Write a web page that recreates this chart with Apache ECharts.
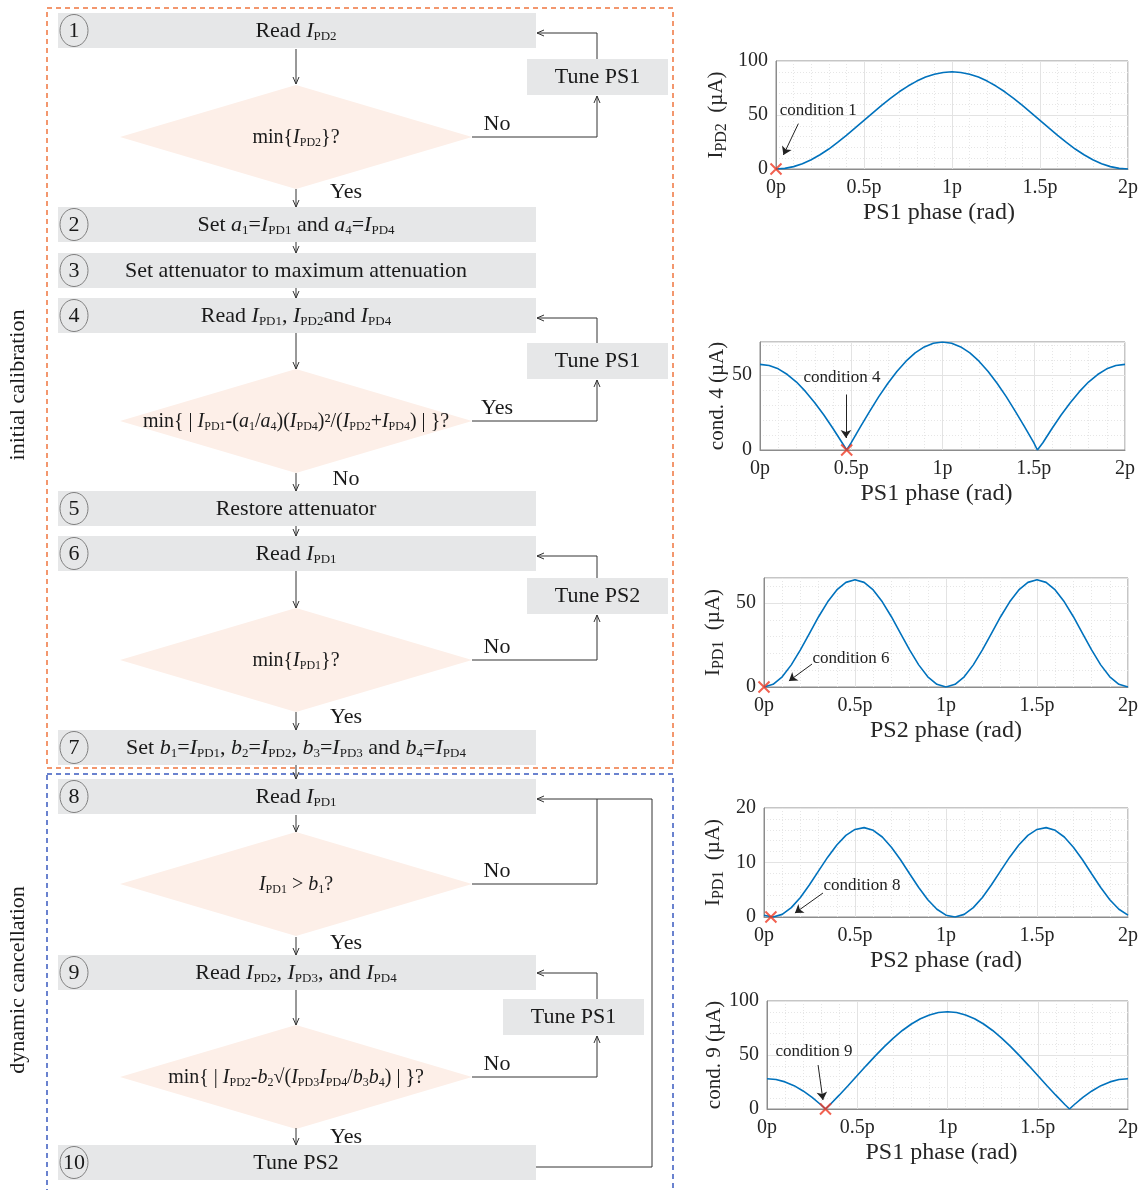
<!DOCTYPE html>
<html><head><meta charset="utf-8">
<script src="https://cdn.jsdelivr.net/npm/echarts@6/dist/echarts.min.js"></script>
<style>html,body{margin:0;padding:0;background:#fff}#c{width:1148px;height:1190px}</style>
</head><body><div id="c"></div>
<script>
// ================= DATA =================
const phaseTicks = ['0p', '0.5p', '1p', '1.5p', '2p'];
const phaseStd = [0,0.05,0.1,0.15,0.2,0.25,0.3,0.35,0.4,0.45,0.5,0.55,0.6,0.65,0.7,0.75,0.8,0.85,0.9,0.95,1,1.05,1.1,1.15,1.2,1.25,1.3,1.35,1.4,1.45,1.5,1.55,1.6,1.65,1.7,1.75,1.8,1.85,1.9,1.95,2];
// plot 1: I_PD2 vs PS1 phase
const ipd2 = [0,0.55,2.2,4.9,8.6,13.2,18.5,24.6,31.1,38.0,45.0,52.0,58.9,65.4,71.5,76.8,81.4,85.1,87.8,89.4,90,89.4,87.8,85.1,81.4,76.8,71.5,65.4,58.9,52.0,45.0,38.0,31.1,24.6,18.5,13.2,8.6,4.9,2.2,0.55,0];
// plot 2: condition 4 vs PS1 phase
const phaseCond4 = [0,0.05,0.1,0.15,0.2,0.25,0.3,0.35,0.4,0.45,0.475,0.5,0.55,0.6,0.65,0.7,0.75,0.8,0.85,0.9,0.95,1,1.05,1.1,1.15,1.2,1.25,1.3,1.35,1.4,1.45,1.5,1.52,1.55,1.6,1.65,1.7,1.75,1.8,1.85,1.9,1.95,2];
const cond4 = [57.1,56.3,54.1,50.3,45.3,38.9,31.5,23.3,14.3,4.8,0,4.9,15.4,25.6,35.4,44.3,52.3,59.2,64.7,68.7,71.2,72.0,71.2,68.7,64.7,59.2,52.3,44.3,35.4,25.6,15.4,4.9,0,4.8,14.3,23.3,31.5,38.9,45.3,50.3,54.1,56.3,57.1];
// plot 3: I_PD1 vs PS2 phase (condition 6)
const ipd1Cal = [0,1.6,6.1,13.2,22.1,32.0,41.9,50.8,57.9,62.4,64.0,62.4,57.9,50.8,41.9,32.0,22.1,13.2,6.1,1.6,0,1.6,6.1,13.2,22.1,32.0,41.9,50.8,57.9,62.4,64.0,62.4,57.9,50.8,41.9,32.0,22.1,13.2,6.1,1.6,0];
// plot 4: I_PD1 vs PS2 phase (condition 8)
const ipd1Dyn = [0.33,0.0,0.48,1.72,3.59,5.91,8.46,10.98,13.22,14.98,16.07,16.40,15.91,14.68,12.81,10.51,7.94,5.42,3.17,1.42,0.33,0.0,0.48,1.72,3.59,5.91,8.46,10.98,13.22,14.98,16.07,16.40,15.91,14.68,12.81,10.51,7.94,5.42,3.17,1.42,0.33];
// plot 5: condition 9 vs PS1 phase
const phaseCond9 = [0,0.05,0.1,0.15,0.2,0.25,0.3,0.324,0.35,0.4,0.45,0.5,0.55,0.6,0.65,0.7,0.75,0.8,0.85,0.9,0.95,1,1.05,1.1,1.15,1.2,1.25,1.3,1.35,1.4,1.45,1.5,1.55,1.6,1.65,1.676,1.7,1.75,1.8,1.85,1.9,1.95,2];
const cond9 = [28.0,27.3,25.1,21.6,16.7,10.7,3.7,0,4.2,12.8,21.8,31.0,40.2,49.2,57.8,65.7,72.7,78.7,83.6,87.1,89.3,90.0,89.3,87.1,83.6,78.7,72.7,65.7,57.8,49.2,40.2,31.0,21.8,12.8,4.2,0,3.7,10.7,16.7,21.6,25.1,27.3,28.0];
// operating points (red crosses)
const markerPhase = [0, 0.475, 0, 0.038, 0.324];
const markerValue = [0, 0, 0, 0, 0];
// annotation texts and arrows (data coords: text centre, arrow start, arrow end)
const condLabels = ['condition 1', 'condition 4', 'condition 6', 'condition 8', 'condition 9'];
const condTextAt = [[0.24, 54], [0.449, 48], [0.478, 16.7], [0.538, 5.7], [0.26, 52.8]];
const condArrowFrom = [[0.127, 42], [0.471, 37], [0.264, 13.7], [0.324, 4.4], [0.283, 40.7]];
const condArrowTo = [[0.042, 13], [0.471, 8], [0.137, 3.6], [0.170, 0.73], [0.31, 8.3]];
const yMax = [100, 72, 65, 20, 100];
const yInterval = [50, 50, 50, 10, 50];
const yNames = ['{r|I}{s|PD2}{r|  (µA)}', '{r|cond. 4 (µA)}', '{r|I}{s|PD1}{r|  (µA)}', '{r|I}{s|PD1}{r|  (µA)}', '{r|cond. 9 (µA)}'];
const xNames = ['PS1 phase (rad)', 'PS1 phase (rad)', 'PS2 phase (rad)', 'PS2 phase (rad)', 'PS1 phase (rad)'];

// flowchart texts
const stepTexts = [
  'Read {i|I}{s|PD2}',
  'Set {i|a}{s|1}={i|I}{s|PD1} and {i|a}{s|4}={i|I}{s|PD4}',
  'Set attenuator to maximum attenuation',
  'Read {i|I}{s|PD1}, {i|I}{s|PD2}and {i|I}{s|PD4}',
  'Restore attenuator',
  'Read {i|I}{s|PD1}',
  'Set {i|b}{s|1}={i|I}{s|PD1}, {i|b}{s|2}={i|I}{s|PD2}, {i|b}{s|3}={i|I}{s|PD3} and {i|b}{s|4}={i|I}{s|PD4}',
  'Read {i|I}{s|PD1}',
  'Read {i|I}{s|PD2}, {i|I}{s|PD3}, and {i|I}{s|PD4}',
  'Tune PS2'
];
const decisionTexts = [
  'min\u007B{i|I}{s|PD2}\u007D?',
  'min\u007B | {i|I}{s|PD1}-({i|a}{s|1}/{i|a}{s|4})({i|I}{s|PD4})²/({i|I}{s|PD2}+{i|I}{s|PD4}) | \u007D?',
  'min\u007B{i|I}{s|PD1}\u007D?',
  '{i|I}{s|PD1} > {i|b}{s|1}?',
  'min\u007B | {i|I}{s|PD2}-{i|b}{s|2}√({i|I}{s|PD3}{i|I}{s|PD4}/{i|b}{s|3}{i|b}{s|4}) | \u007D?'
];
const tuneTexts = ['Tune PS1', 'Tune PS1', 'Tune PS2', 'Tune PS1'];
const rightBranch = ['No', 'Yes', 'No', 'No', 'No'];
const downBranch = ['Yes', 'No', 'Yes', 'Yes', 'Yes'];
const groupNames = ['initial calibration', 'dynamic cancellation'];

// ================= LAYOUT / STYLE =================
const F = '"Liberation Serif", "Times New Roman", serif';
const TXT = '#1a1a1a';
const FS = 22;
const grids = [
  {left: 776, top: 61, width: 352, height: 108},
  {left: 760, top: 342, width: 365, height: 108},
  {left: 764, top: 578, width: 364, height: 109},
  {left: 764, top: 808, width: 364, height: 109},
  {left: 767, top: 1001, width: 361, height: 108}
];
const yNameGap = [46, 28, 37, 37, 36];
const xNameShift = [26, 12, 0, 0, 12];
const lineData = [
  [phaseStd, ipd2], [phaseCond4, cond4], [phaseStd, ipd1Cal], [phaseStd, ipd1Dyn], [phaseCond9, cond9]
];

const nameRich = {
  r: {fontSize: 21, fontFamily: F, color: '#262626'},
  s: {fontSize: 16, fontFamily: F, color: '#262626', padding: [12, 0, 0, 0]}
};

const option = {
  animation: false,
  backgroundColor: '#fff',
  grid: grids.map(g => Object.assign({show: true, borderColor: '#8c8c8c', borderWidth: 1, backgroundColor: 'transparent'}, g)),
  xAxis: grids.map((g, i) => ({
    type: 'value', gridIndex: i, min: 0, max: 2, interval: 0.5,
    name: xNames[i], nameLocation: 'middle', nameGap: 32,
    nameTextStyle: {fontFamily: F, fontSize: 24, color: '#262626', padding: [0, xNameShift[i], 0, 0]},
    axisLine: {show: true, lineStyle: {color: '#8c8c8c'}},
    axisTick: {show: false},
    axisLabel: {fontFamily: F, fontSize: 20, color: '#262626', margin: 9,
      formatter: v => phaseTicks[Math.round(v / 0.5)]},
    splitLine: {show: true, lineStyle: {color: '#e3e3e3', width: 1}},
    minorTick: {show: false, splitNumber: 5},
    minorSplitLine: {show: true, lineStyle: {color: '#e6e6e6', type: [1, 2], width: 1}}
  })),
  yAxis: grids.map((g, i) => ({
    type: 'value', gridIndex: i, min: 0, max: yMax[i], interval: yInterval[i],
    name: yNames[i], nameLocation: 'middle', nameGap: yNameGap[i], nameRotate: 90,
    nameTextStyle: {rich: nameRich},
    axisLine: {show: true, lineStyle: {color: '#8c8c8c'}},
    axisTick: {show: false},
    axisLabel: {fontFamily: F, fontSize: 20, color: '#262626', margin: 8,
      showMaxLabel: (yMax[i] % yInterval[i] === 0)},
    splitLine: {show: true, lineStyle: {color: '#e3e3e3', width: 1}},
    minorTick: {show: false, splitNumber: 5},
    minorSplitLine: {show: true, lineStyle: {color: '#e6e6e6', type: [1, 2], width: 1}}
  })),
  series: []
};

lineData.forEach((d, i) => {
  option.series.push({
    type: 'line', xAxisIndex: i, yAxisIndex: i,
    data: d[0].map((x, k) => [x, d[1][k]]),
    showSymbol: false, smooth: false, clip: true,
    lineStyle: {color: '#0072BD', width: 1.6}
  });
  option.series.push({
    type: 'scatter', xAxisIndex: i, yAxisIndex: i, clip: false, z: 5,
    data: [[markerPhase[i], markerValue[i]]],
    symbol: 'path://M0,0L10,10M10,0L0,10', symbolSize: 11,
    itemStyle: {color: 'none', borderColor: '#ee3a24', borderWidth: 2},
    markLine: {
      silent: true, animation: false, symbolSize: 8,
      symbol: ['none', 'arrow'],
      lineStyle: {color: '#222', width: 1, type: 'solid'},
      label: {show: false},
      data: [[{coord: condArrowFrom[i]}, {coord: condArrowTo[i]}]]
    },
    markPoint: {
      silent: true, animation: false, symbol: 'rect', symbolSize: 1,
      itemStyle: {color: 'rgba(0,0,0,0)'},
      label: {show: true, position: 'inside', fontFamily: F, fontSize: 17, color: '#222'},
      data: [{coord: condTextAt[i], value: condLabels[i], label: {formatter: condLabels[i]}}]
    }
  });
});

// ================= FLOWCHART (graphic) =================
const els = [];
const LINE = '#333';
const BOXFILL = '#e6e7e8';
const DIAFILL = '#fdefe8';
function richFor(fs, sfs) {
  return {
    i: {fontSize: fs, fontFamily: F, fontStyle: 'italic', fill: TXT, color: TXT},
    s: {fontSize: sfs, fontFamily: F, fill: TXT, color: TXT, padding: [Math.round(fs / 2), 0, 0, 0]}
  };
}
const richBox = richFor(FS, 13);
const richDia = richFor(20, 12);
function text(x, y, t, fs, rich) {
  els.push({type: 'text', x: x, y: y, z: 20,
    style: {text: t, rich: rich || richBox, fontSize: fs || FS, fontFamily: F, fill: TXT,
      align: 'center', verticalAlign: 'middle'}});
}
function poly(pts) {
  els.push({type: 'polyline', z: 10, shape: {points: pts}, style: {stroke: LINE, lineWidth: 1, fill: null}});
}
function head(x, y, dir) {
  const a = 3, b = 7;
  let pts;
  if (dir === 'down') pts = [[x - a, y - b], [x, y], [x + a, y - b]];
  if (dir === 'up') pts = [[x - a, y + b], [x, y], [x + a, y + b]];
  if (dir === 'left') pts = [[x + b, y - a], [x, y], [x + b, y + a]];
  poly(pts);
}
// group frames
els.push({type: 'rect', z: 1, shape: {x: 47, y: 8, width: 626, height: 760},
  style: {fill: null, stroke: '#f0763f', lineWidth: 1.5, lineDash: [5, 4]}});
els.push({type: 'rect', z: 1, shape: {x: 47, y: 774, width: 626, height: 430},
  style: {fill: null, stroke: '#3a5ac0', lineWidth: 1.5, lineDash: [5, 4]}});
groupNames.forEach((g, k) => {
  els.push({type: 'text', x: 18, y: k === 0 ? 385 : 980, rotation: Math.PI / 2, z: 20,
    style: {text: g, fontSize: FS, fontFamily: F, fill: TXT, align: 'center', verticalAlign: 'middle'}});
});

const CX = 296;
const boxTop = [13, 207, 253, 298, 491, 536, 730, 779, 955, 1145];
const BH = 35;
boxTop.forEach((y, k) => {
  els.push({type: 'rect', z: 2, shape: {x: 58, y: y, width: 478, height: BH}, style: {fill: BOXFILL}});
  els.push({type: 'ellipse', z: 3, shape: {cx: 74, cy: y + BH / 2, rx: 14, ry: 16}, style: {fill: null, stroke: '#808080', lineWidth: 1}});
  els.push({type: 'text', x: 74, y: y + BH / 2 + 1, z: 20,
    style: {text: String(k + 1), fontSize: FS, fontFamily: F, fill: TXT, align: 'center', verticalAlign: 'middle'}});
  text(CX, y + BH / 2 + 1, stepTexts[k]);
});
const diaCY = [137, 421, 660, 884, 1077];
const DW = 176, DH = 52;
diaCY.forEach((cy, k) => {
  els.push({type: 'polygon', z: 2, shape: {points: [[CX - DW, cy], [CX, cy - DH], [CX + DW, cy], [CX, cy + DH]]}, style: {fill: DIAFILL}});
  text(CX, cy + 1, decisionTexts[k], 20, richDia);
});
const tuneBoxes = [{x: 527, y: 59}, {x: 527, y: 343}, {x: 527, y: 578}, {x: 503, y: 999}];
tuneBoxes.forEach((b, k) => {
  els.push({type: 'rect', z: 2, shape: {x: b.x, y: b.y, width: 141, height: 36}, style: {fill: BOXFILL}});
  text(b.x + 70.5, b.y + 18, tuneTexts[k]);
});
// vertical main-flow arrows
const vArrows = [[49, 84], [189, 207], [242, 253], [288, 298], [333, 369], [473, 491], [526, 536], [571, 608], [712, 730], [765, 779], [815, 832], [937, 955], [990, 1025], [1128, 1145]];
vArrows.forEach(a => { poly([[CX, a[0]], [CX, a[1]]]); head(CX, a[1], 'down'); });
// feedback loops via tune boxes
const LX = 597;
[[0, 0, 33], [1, 1, 318], [2, 2, 556], [4, 3, 973]].forEach(([d, t, ry]) => {
  const cy = diaCY[d], b = tuneBoxes[t];
  poly([[CX + DW, cy], [LX, cy], [LX, b.y + 37]]); head(LX, b.y + 37, 'up');
  poly([[LX, b.y], [LX, ry], [537, ry]]); head(537, ry, 'left');
});
// loop of step 8 / step 10
poly([[CX + DW, diaCY[3]], [LX, diaCY[3]], [LX, 799], [537, 799]]); head(537, 799, 'left');
poly([[536, 1167], [652, 1167], [652, 799], [LX, 799]]);
// branch labels
const rbY = [124, 408, 647, 871, 1064];
rbY.forEach((y, k) => text(497, y, rightBranch[k]));
const dbY = [192, 479, 717, 943, 1137];
dbY.forEach((y, k) => text(346, y, downBranch[k]));

option.graphic = {elements: els};

const chart = echarts.init(document.getElementById('c'), null, {renderer: 'canvas'});
chart.setOption(option);
</script>
</body></html>
